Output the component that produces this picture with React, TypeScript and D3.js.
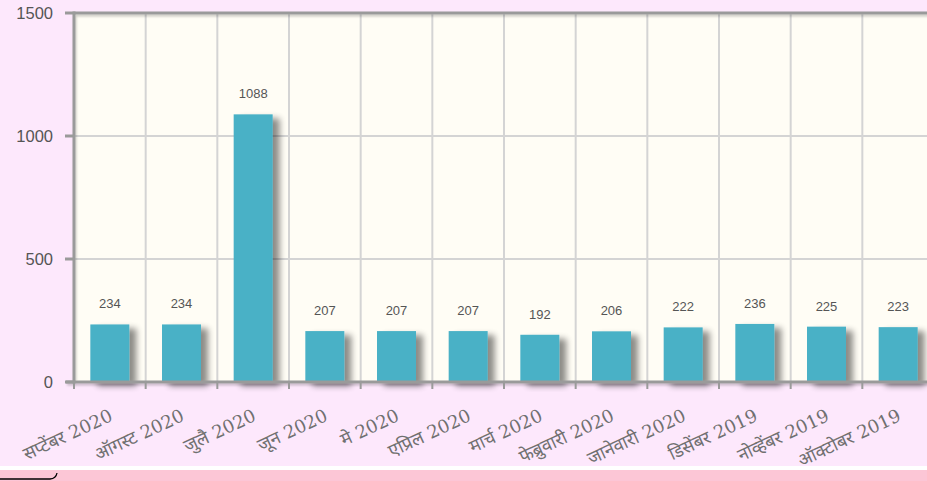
import React, { useEffect, useRef } from "react";
import * as d3 from "d3";

const categories = [
  "सप्टेंबर 2020",
  "ऑगस्ट 2020",
  "जुलै 2020",
  "जून 2020",
  "मे 2020",
  "एप्रिल 2020",
  "मार्च 2020",
  "फेब्रुवारी 2020",
  "जानेवारी 2020",
  "डिसेंबर 2019",
  "नोव्हेंबर 2019",
  "ऑक्टोबर 2019",
];
const values = [234, 234, 1088, 207, 207, 207, 192, 206, 222, 236, 225, 223];
const yTicks = [0, 500, 1000, 1500];

const W = 927;
const H = 481;
const M = { left: 74, top: 13, bottom: 382, right: 934 };

export default function App() {
  const ref = useRef<SVGSVGElement>(null);

  useEffect(() => {
    const svg = d3.select(ref.current);
    svg.selectAll("*").remove();

    const defs = svg.append("defs");
    const f = defs.append("filter").attr("id", "shadow").attr("x", "-20%").attr("y", "-20%").attr("width", "160%").attr("height", "140%");
    f.append("feOffset").attr("in", "SourceAlpha").attr("dx", 7).attr("dy", 4).attr("result", "o");
    f.append("feGaussianBlur").attr("in", "o").attr("stdDeviation", 3).attr("result", "b");
    f.append("feComponentTransfer").attr("in", "b").attr("result", "c")
      .append("feFuncA").attr("type", "linear").attr("slope", 0.45);
    const fm = f.append("feMerge");
    fm.append("feMergeNode").attr("in", "c");
    fm.append("feMergeNode").attr("in", "SourceGraphic");

    const fa = defs.append("filter").attr("id", "ashadow").attr("x", "-5%").attr("y", "-5%").attr("width", "110%").attr("height", "110%");
    fa.append("feDropShadow").attr("dx", 1).attr("dy", 2).attr("stdDeviation", 1).attr("flood-color", "#000").attr("flood-opacity", 0.2);

    // page background
    svg.append("rect").attr("width", W).attr("height", H).attr("fill", "#fde8fc");
    svg.append("rect").attr("x", 0).attr("y", 466).attr("width", W).attr("height", 4).attr("fill", "#ffffff");
    svg.append("rect").attr("x", 0).attr("y", 470).attr("width", W).attr("height", 11).attr("fill", "#fcc6d6");
    svg.append("path").attr("d", "M0,479 L50,479 Q56,478.5 57,473").attr("fill", "none").attr("stroke", "#000").attr("stroke-width", 1.3);

    const x = d3.scaleBand<string>().domain(categories).range([M.left, M.right]).paddingInner(0).paddingOuter(0);
    const y = d3.scaleLinear().domain([0, 1500]).range([M.bottom, M.top]);

    // plot area
    svg.append("rect").attr("x", M.left).attr("y", M.top).attr("width", M.right - M.left).attr("height", M.bottom - M.top).attr("fill", "#fffdf5");

    // horizontal grid
    svg.append("g").selectAll("line").data(yTicks.filter((t) => t > 0 && t < 1500)).join("line")
      .attr("x1", M.left).attr("x2", M.right)
      .attr("y1", (d) => y(d)).attr("y2", (d) => y(d))
      .attr("stroke", "#d4d4d4").attr("stroke-width", 2);
    // vertical grid
    svg.append("g").selectAll("line").data(categories.slice(1)).join("line")
      .attr("x1", (d) => x(d)!).attr("x2", (d) => x(d)!)
      .attr("y1", M.top).attr("y2", M.bottom)
      .attr("stroke", "#d4d4d4").attr("stroke-width", 2);

    const bw = x.bandwidth();
    const barW = 39;
    svg.append("g").selectAll("rect").data(values).join("rect")
      .attr("x", (_d, i) => x(categories[i])! + (bw - barW) / 2)
      .attr("y", (d) => y(d))
      .attr("width", barW)
      .attr("height", (d) => M.bottom - y(d))
      .attr("fill", "#4ab1c6")
      .attr("filter", "url(#shadow)");

    svg.append("g").selectAll("text").data(values).join("text")
      .attr("x", (_d, i) => x(categories[i])! + bw / 2)
      .attr("y", (d) => y(d) - 16)
      .attr("text-anchor", "middle")
      .attr("font-family", "Liberation Sans, Arial, sans-serif")
      .attr("font-size", 13)
      .attr("fill", "#555")
      .text((d) => String(d));

    // axes lines
    const axisG = svg.append("g").attr("filter", "url(#ashadow)");
    axisG.append("line").attr("x1", M.left).attr("x2", M.right).attr("y1", M.top).attr("y2", M.top).attr("stroke", "#9a9a9a").attr("stroke-width", 3);
    axisG.append("line").attr("x1", M.left).attr("x2", M.left).attr("y1", M.top - 1.5).attr("y2", M.bottom + 1.5).attr("stroke", "#9a9a9a").attr("stroke-width", 3);
    axisG.append("line").attr("x1", M.left - 8).attr("x2", M.right).attr("y1", M.bottom).attr("y2", M.bottom).attr("stroke", "#9a9a9a").attr("stroke-width", 3);

    // y ticks
    const yt = svg.append("g");
    yt.selectAll("line").data(yTicks).join("line")
      .attr("x1", M.left - 9).attr("x2", M.left)
      .attr("y1", (d) => y(d)).attr("y2", (d) => y(d))
      .attr("stroke", "#9a9a9a").attr("stroke-width", 3);
    yt.selectAll("text").data(yTicks).join("text")
      .attr("x", 53)
      .attr("y", (d) => y(d) + 6)
      .attr("text-anchor", "end")
      .attr("font-family", "Liberation Sans, Arial, sans-serif")
      .attr("font-size", 16.5)
      .attr("fill", "#555")
      .text((d) => String(d));

    // x ticks
    svg.append("g").selectAll("line").data(categories).join("line")
      .attr("x1", (d) => x(d)!).attr("x2", (d) => x(d)!)
      .attr("y1", M.bottom).attr("y2", M.bottom + 7)
      .attr("stroke", "#9a9a9a").attr("stroke-width", 2);

    // x labels
    svg.append("g").selectAll("text").data(categories).join("text")
      .attr("transform", (d) => `translate(${x(d)! + bw / 2 + 4},${M.bottom + 38}) rotate(-25)`)
      .attr("text-anchor", "end")
      .attr("font-family", "DejaVu Serif, Noto Sans, serif")
      .attr("font-size", 18)
      .attr("fill", "#707070")
      .text((d) => d);
  }, []);

  return (
    <svg
      ref={ref}
      width={W}
      height={H}
      style={{ position: "absolute", left: 0, top: 0, display: "block" }}
    />
  );
}
